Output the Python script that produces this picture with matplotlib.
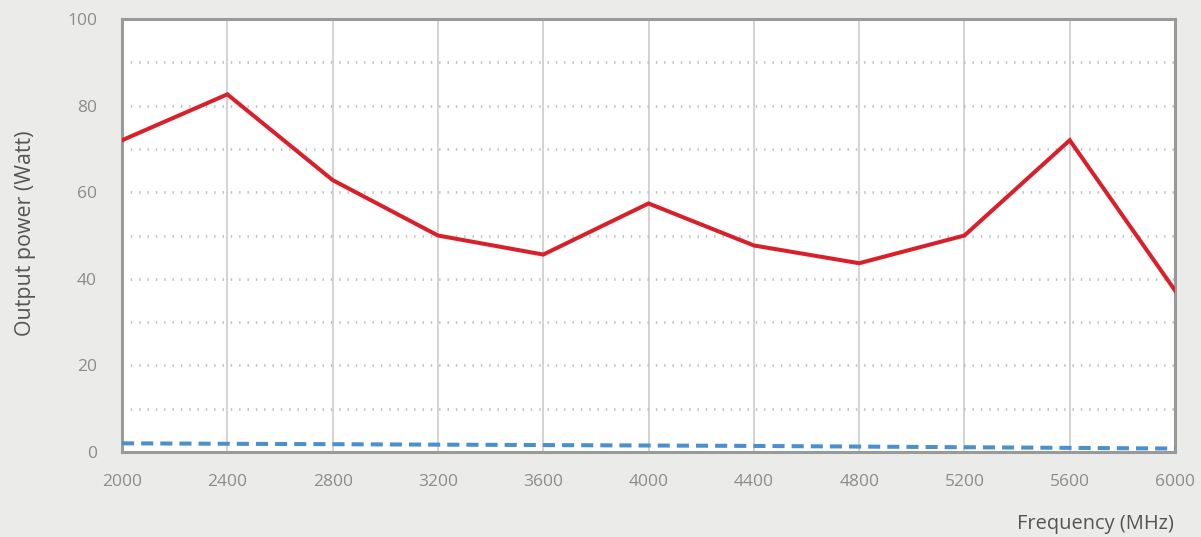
import matplotlib
matplotlib.use("Agg")
from matplotlib import pyplot as plt

# frequency points (MHz)
freq = [2000, 2400, 2800, 3200, 3600, 4000, 4400, 4800, 5200, 5600, 6000]
# output power (W), solid red line
power_out = [72.0, 82.6, 62.8, 50.0, 45.6, 57.4, 47.7, 43.6, 50.0, 72.0, 37.3]
# low trace, dashed blue
power_low = [2.0, 1.9, 1.8, 1.7, 1.6, 1.5, 1.4, 1.25, 1.1, 0.95, 0.8]

yticks = [0, 20, 40, 60, 80, 100]

plt.rcParams['font.family'] = ['Open Sans', 'DejaVu Sans']

fig = plt.figure(figsize=(12.01, 5.37), dpi=100, facecolor='#ebebe9')
ax = fig.add_axes([0.1016, 0.1583, 0.8768, 0.8063])
ax.set_facecolor('white')

ax.plot(freq, power_out, color='#d9202a', lw=2.9, solid_joinstyle='miter', zorder=3)
ax.plot(freq, power_low, color='#4a90cf', lw=2.9, dashes=(3, 1.75), zorder=3)

ax.set_xlim(2000, 6000)
ax.set_ylim(0, 100)
ax.set_xticks(freq)
ax.set_yticks(yticks)

# vertical solid grid, horizontal dotted grid every 10
for x in freq[1:-1]:
    ax.axvline(x, color='#cccccc', lw=1.2, zorder=1)
for y in range(10, 100, 10):
    ax.axhline(y, color='#c2c2c2', lw=2, linestyle=(0, (0.5, 2.5)), zorder=1)

for s in ax.spines.values():
    s.set_color('#999b9b')
    s.set_linewidth(2.2)

ax.tick_params(length=0, colors='#8c8c8c', labelsize=12.5)
ax.tick_params(axis='x', pad=16)
ax.tick_params(axis='y', pad=18)

ax.set_ylabel('Output power (Watt)', fontsize=15.4, color='#555555')
ax.yaxis.set_label_coords(-0.082, 0.505)
ax.set_xlabel('Frequency (MHz)', fontsize=14.4, color='#555555',
              ha='right', va='center')
ax.xaxis.set_label_coords(0.9985, -0.167)

fig.savefig('out.png', dpi=100, facecolor=fig.get_facecolor())
